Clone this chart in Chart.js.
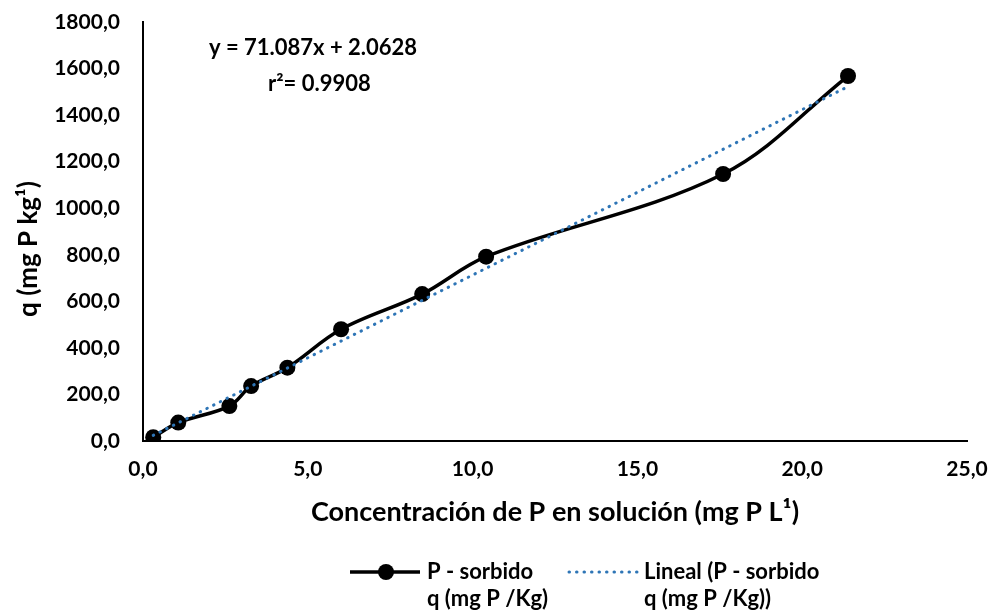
<!DOCTYPE html>
<html>
<head>
<meta charset="utf-8">
<script src="https://cdn.jsdelivr.net/npm/chart.js@4.4.1/dist/chart.umd.min.js"></script>
<style>
  html, body { margin: 0; padding: 0; background: #fff; }
  #wrap { width: 990px; height: 614px; }
</style>
</head>
<body>
<div id="wrap"><canvas id="chart" width="990" height="614"></canvas></div>
<script>
// ---- datos ----
const concP = [0.31, 1.07, 2.62, 3.28, 4.38, 6.01, 8.47, 10.41, 17.60, 21.39];   // mg P L-1
const qSorbido = [16, 79, 150, 236, 315, 480, 631, 792, 1147, 1568];             // mg P kg-1
const xTicks = [0, 5, 10, 15, 20, 25];
const yTicks = [0, 200, 400, 600, 800, 1000, 1200, 1400, 1600, 1800];
const slope = 71.087, intercept = 2.0628, r2 = 0.9908;

const FONT = "Lato, 'Open Sans', sans-serif";
const fmt = v => v.toFixed(1).replace('.', ',');

const serie = concP.map((x, i) => ({ x: x, y: qSorbido[i] }));
const xMin = Math.min(...concP), xMax = Math.max(...concP);
const tendencia = [xMin, xMax].map(x => ({ x: x, y: slope * x + intercept }));

// ecuación, título del eje Y y leyenda dibujados a mano
const extras = {
  id: 'extras',
  afterDraw(chart) {
    const c = chart.ctx;
    c.save();
    c.fillStyle = '#000';
    c.textBaseline = 'middle';
    c.textAlign = 'left';
    c.font = 'bold 22px ' + FONT;
    c.fillText('y = ' + slope + 'x + ' + intercept, 209, 48);
    c.fillText('r\u00b2= ' + r2, 268, 84);

    // título eje Y
    c.save();
    c.translate(29, 249);
    c.rotate(-Math.PI / 2);
    c.textAlign = 'center';
    c.font = 'bold 26px ' + FONT;
    c.fillText('q (mg P kg\u00b9)', 0, 0);
    c.restore();

    // leyenda
    const ly = 572;
    c.strokeStyle = '#000';
    c.lineWidth = 3.5;
    c.beginPath(); c.moveTo(350, ly); c.lineTo(420, ly); c.stroke();
    c.beginPath(); c.arc(386, ly, 8, 0, Math.PI * 2); c.fillStyle = '#000'; c.fill();

    c.strokeStyle = '#2E75B6';
    c.lineWidth = 3;
    c.lineCap = 'round';
    c.setLineDash([0.5, 7]);
    c.beginPath(); c.moveTo(569, ly); c.lineTo(638, ly); c.stroke();
    c.setLineDash([]);

    c.fillStyle = '#000';
    c.font = 'bold 22px ' + FONT;
    c.fillText('P - sorbido', 427, ly);
    c.fillText('q (mg P /Kg)', 427, ly + 27);
    c.fillText('Lineal (P - sorbido', 644, ly);
    c.fillText('q (mg P /Kg))', 644, ly + 27);
    c.restore();
  }
};

new Chart(document.getElementById('chart'), {
  type: 'scatter',
  data: {
    datasets: [
      {
        label: 'Lineal (P - sorbido q (mg P /Kg))',
        data: tendencia,
        showLine: true,
        borderColor: '#2E75B6',
        borderWidth: 3,
        borderDash: [0.5, 7],
        borderCapStyle: 'round',
        pointRadius: 0,
        order: 0
      },
      {
        label: 'P - sorbido q (mg P /Kg)',
        data: serie,
        showLine: true,
        tension: 0.35,
        borderColor: '#000',
        borderWidth: 3.5,
        pointRadius: 8,
        pointBackgroundColor: '#000',
        pointBorderWidth: 0,
        order: 1
      }
    ]
  },
  options: {
    responsive: false,
    animation: false,
    devicePixelRatio: 1,
    layout: { padding: { left: 0, right: 23, top: 22, bottom: 73 } },
    plugins: { legend: { display: false }, tooltip: { enabled: false } },
    scales: {
      x: {
        type: 'linear',
        min: xTicks[0], max: xTicks[xTicks.length - 1],
        afterBuildTicks: s => { s.ticks = xTicks.map(v => ({ value: v })); },
        // alto fijo y sin margen extra por las etiquetas de los extremos
        afterFit: s => { s.height = 100; s.paddingLeft = 0; s.paddingRight = 0; },
        grid: { display: false, drawTicks: false },
        border: { display: true, color: '#000', width: 2 },
        ticks: {
          padding: 16, color: '#000',
          font: { family: FONT, size: 21, weight: 'bold' },
          callback: v => fmt(v)
        },
        title: {
          display: true, text: 'Concentración de P en solución (mg P L\u00b9)',
          color: '#000', font: { family: FONT, size: 27, weight: 'bold' },
          padding: { top: 0, bottom: 13 }
        }
      },
      y: {
        type: 'linear',
        min: yTicks[0], max: yTicks[yTicks.length - 1],
        afterBuildTicks: s => { s.ticks = yTicks.map(v => ({ value: v })); },
        afterFit: s => { s.width = 143; s.paddingTop = 0; s.paddingBottom = 0; },
        grid: { display: false, drawTicks: false },
        border: { display: true, color: '#000', width: 2 },
        ticks: {
          padding: 23, color: '#000',
          font: { family: FONT, size: 21, weight: 'bold' },
          callback: v => fmt(v)
        }
      }
    }
  },
  plugins: [extras]
});
</script>
</body>
</html>
